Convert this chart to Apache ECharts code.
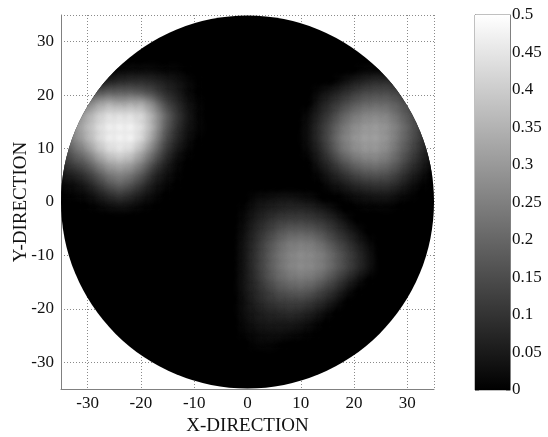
<!DOCTYPE html>
<html>
<head>
<meta charset="utf-8">
<script src="https://cdn.jsdelivr.net/npm/echarts@6/dist/echarts.min.js"></script>
<style>
  html, body { margin: 0; background: #fff; }
  #main { width: 548px; height: 437px; }
</style>
</head>
<body>
<div id="main"></div>
<script>
// disc of the measured area
const discCenter = [0, 0];
const discRadius = 35;

// blob A (upper left), values on a 2-unit grid
const aX = [-34, -32, -30, -28, -26, -24, -22, -20, -18, -16, -14, -12, -10];
const aY = [24, 22, 20, 18, 16, 14, 12, 10, 8, 6, 4, 2, 0];
const aVals = [
  [0, 0, 0, 0, 0, 0.02, 0.03, 0.03, 0.03, 0.02, 0.02, 0.01, 0],
  [0, 0, 0, 0.04, 0.07, 0.09, 0.1, 0.1, 0.09, 0.07, 0.05, 0.03, 0.01],
  [0, 0, 0.14, 0.17, 0.2, 0.2, 0.2, 0.18, 0.15, 0.1, 0.07, 0.03, 0.01],
  [0, 0.18, 0.25, 0.32, 0.36, 0.33, 0.35, 0.35, 0.27, 0.16, 0.1, 0.05, 0.02],
  [0.2, 0.26, 0.34, 0.41, 0.46, 0.46, 0.46, 0.44, 0.34, 0.22, 0.13, 0.06, 0.02],
  [0.22, 0.3, 0.37, 0.44, 0.49, 0.5, 0.5, 0.45, 0.34, 0.2, 0.11, 0.05, 0.02],
  [0.2, 0.28, 0.35, 0.43, 0.49, 0.5, 0.5, 0.43, 0.3, 0.17, 0.09, 0.04, 0.01],
  [0.16, 0.22, 0.28, 0.37, 0.44, 0.47, 0.44, 0.35, 0.24, 0.13, 0.06, 0.02, 0],
  [0.12, 0.16, 0.2, 0.28, 0.35, 0.38, 0.35, 0.27, 0.17, 0.09, 0.03, 0.01, 0],
  [0.07, 0.09, 0.13, 0.19, 0.26, 0.29, 0.26, 0.19, 0.1, 0.05, 0.02, 0, 0],
  [0.03, 0.04, 0.07, 0.12, 0.18, 0.22, 0.18, 0.12, 0.06, 0.03, 0.01, 0, 0],
  [0.01, 0.02, 0.03, 0.06, 0.1, 0.13, 0.1, 0.06, 0.03, 0.01, 0, 0, 0],
  [0, 0, 0.01, 0.02, 0.04, 0.05, 0.04, 0.02, 0.01, 0, 0, 0, 0]
];

// blob B (upper right)
const bX = [12, 14, 16, 18, 20, 22, 24, 26, 28, 30, 32, 34];
const bY = [24, 22, 20, 18, 16, 14, 12, 10, 8, 6, 4, 2, 0];
const bVals = [
  [0, 0, 0, 0, 0, 0.02, 0.02, 0, 0, 0, 0, 0],
  [0, 0, 0, 0.03, 0.06, 0.08, 0.1, 0.1, 0.08, 0, 0, 0],
  [0, 0.03, 0.06, 0.09, 0.12, 0.15, 0.16, 0.16, 0.14, 0.1, 0, 0],
  [0, 0.06, 0.1, 0.14, 0.18, 0.21, 0.22, 0.22, 0.19, 0.15, 0.1, 0],
  [0.03, 0.08, 0.13, 0.19, 0.24, 0.27, 0.28, 0.27, 0.22, 0.17, 0.12, 0],
  [0.04, 0.1, 0.16, 0.23, 0.28, 0.31, 0.32, 0.3, 0.25, 0.19, 0.13, 0],
  [0.04, 0.1, 0.17, 0.25, 0.3, 0.33, 0.33, 0.3, 0.24, 0.18, 0.12, 0.05],
  [0.03, 0.08, 0.15, 0.23, 0.28, 0.31, 0.31, 0.28, 0.22, 0.16, 0.1, 0.05],
  [0.01, 0.06, 0.11, 0.17, 0.22, 0.25, 0.26, 0.24, 0.19, 0.13, 0.08, 0.03],
  [0, 0.03, 0.07, 0.11, 0.15, 0.18, 0.19, 0.18, 0.14, 0.09, 0.05, 0.01],
  [0, 0.01, 0.04, 0.06, 0.09, 0.11, 0.12, 0.12, 0.09, 0.05, 0.02, 0],
  [0, 0, 0.01, 0.02, 0.04, 0.05, 0.06, 0.06, 0.04, 0.02, 0, 0],
  [0, 0, 0, 0, 0.01, 0.02, 0.02, 0.02, 0.01, 0, 0, 0]
];

// blob C (lower middle)
const cX = [0, 2, 4, 6, 8, 10, 12, 14, 16, 18, 20, 22];
const cY = [0, -2, -4, -6, -8, -10, -12, -14, -16, -18, -20, -22, -24, -26];
const cVals = [
  [0, 0.03, 0.04, 0.05, 0.05, 0.04, 0.03, 0, 0, 0, 0, 0],
  [0.02, 0.05, 0.07, 0.08, 0.09, 0.09, 0.08, 0.06, 0.03, 0, 0, 0],
  [0.03, 0.07, 0.1, 0.13, 0.14, 0.14, 0.13, 0.11, 0.08, 0.04, 0, 0],
  [0.04, 0.09, 0.13, 0.17, 0.2, 0.2, 0.19, 0.16, 0.12, 0.08, 0.04, 0],
  [0.05, 0.1, 0.16, 0.21, 0.25, 0.26, 0.25, 0.21, 0.16, 0.12, 0.07, 0.03],
  [0.05, 0.11, 0.17, 0.23, 0.27, 0.29, 0.28, 0.25, 0.2, 0.15, 0.1, 0.05],
  [0.05, 0.11, 0.17, 0.23, 0.27, 0.29, 0.28, 0.25, 0.2, 0.15, 0.1, 0.05],
  [0.05, 0.1, 0.16, 0.21, 0.24, 0.25, 0.24, 0.2, 0.15, 0.1, 0.05, 0.01],
  [0.05, 0.09, 0.13, 0.17, 0.19, 0.2, 0.18, 0.14, 0.1, 0.05, 0.01, 0],
  [0.04, 0.08, 0.11, 0.13, 0.14, 0.14, 0.12, 0.09, 0.05, 0.01, 0, 0],
  [0.04, 0.06, 0.08, 0.09, 0.1, 0.09, 0.07, 0.04, 0.01, 0, 0, 0],
  [0.03, 0.05, 0.06, 0.06, 0.06, 0.05, 0.03, 0.01, 0, 0, 0, 0],
  [0.02, 0.03, 0.04, 0.04, 0.03, 0.02, 0.01, 0, 0, 0, 0, 0],
  [0, 0.02, 0.02, 0.01, 0, 0, 0, 0, 0, 0, 0, 0]
];

const colorMin = 0;
const colorMax = 0.5;

const CELL = 2;
const FONT = "'Liberation Serif', 'DejaVu Serif', serif";
// cells are painted only through their blurred shadow (shape pushed aside)
const SHIFT = 600;

function toCells(xs, ys, vals) {
  const out = [];
  ys.forEach((y, i) => {
    xs.forEach((x, j) => {
      if (vals[i][j] > 0) out.push([x, y, vals[i][j]]);
    });
  });
  return out;
}

// dim cells first, brighter ones on top
const cellData = [].concat(
  toCells(aX, aY, aVals),
  toCells(bX, bY, bVals),
  toCells(cX, cY, cVals)
).sort((p, q) => p[2] - q[2]);

const chart = echarts.init(document.getElementById('main'));

const gridLine = { type: [1, 2], color: '#8a8a8a', width: 1 };
const labelStyle = { fontFamily: FONT, fontSize: 17, color: '#111' };

chart.setOption({
  animation: false,
  backgroundColor: '#fff',
  grid: [
    { left: 61, top: 15, width: 373, height: 374, containLabel: false, outerBoundsMode: 'none' },
    { left: 475, top: 15, width: 35, height: 375, containLabel: false, outerBoundsMode: 'none',
      show: true, borderColor: '#808080', borderWidth: 1 }
  ],
  visualMap: {
    type: 'continuous',
    show: false,
    seriesIndex: 1,
    dimension: 2,
    min: colorMin,
    max: colorMax,
    inRange: { color: ['#000000', '#ffffff'] }
  },
  xAxis: [{
    gridIndex: 0,
    type: 'value',
    min: -35,
    max: 35,
    splitNumber: 7,
    name: 'X-DIRECTION',
    nameLocation: 'middle',
    nameGap: 22,
    nameTextStyle: { fontFamily: FONT, fontSize: 19, color: '#111' },
    axisLine: { show: true, onZero: false, lineStyle: { color: '#808080' } },
    axisTick: { show: false },
    axisLabel: Object.assign({ showMinLabel: false, showMaxLabel: false, margin: 6 }, labelStyle),
    splitLine: { show: true, lineStyle: gridLine }
  }, {
    gridIndex: 1,
    type: 'category',
    data: ['bar'],
    show: false
  }],
  yAxis: [{
    gridIndex: 0,
    type: 'value',
    min: -35,
    max: 35,
    splitNumber: 7,
    name: 'Y-DIRECTION',
    nameLocation: 'middle',
    nameRotate: 90,
    nameGap: 30,
    nameMoveOverlap: false,
    nameTextStyle: { fontFamily: FONT, fontSize: 19, color: '#111' },
    axisLine: { show: true, onZero: false, lineStyle: { color: '#808080' } },
    axisTick: { show: false },
    axisLabel: Object.assign({ showMinLabel: false, showMaxLabel: false, margin: 7 }, labelStyle),
    splitLine: { show: true, lineStyle: gridLine }
  }, {
    gridIndex: 1,
    type: 'value',
    position: 'right',
    min: colorMin,
    max: colorMax,
    interval: 0.05,
    axisLine: { show: true, lineStyle: { color: '#808080' } },
    axisTick: { show: true, inside: true, length: 4, lineStyle: { color: '#808080' } },
    axisLabel: Object.assign({ margin: 2 }, labelStyle),
    splitLine: { show: false }
  }, {
    gridIndex: 1,
    type: 'value',
    position: 'left',
    min: colorMin,
    max: colorMax,
    interval: 0.05,
    axisLine: { show: true, lineStyle: { color: '#808080' } },
    axisTick: { show: true, inside: true, length: 4, lineStyle: { color: '#808080' } },
    axisLabel: { show: false },
    splitLine: { show: false }
  }],
  series: [{
    name: 'disc',
    type: 'custom',
    xAxisIndex: 0,
    yAxisIndex: 0,
    silent: true,
    z: 1,
    data: [[discCenter[0], discCenter[1], discRadius]],
    renderItem: (params, api) => {
      const c = api.coord([api.value(0), api.value(1)]);
      const r = api.size([api.value(2), 0])[0];
      return { type: 'circle', shape: { cx: c[0], cy: c[1], r: r }, style: { fill: '#000' } };
    }
  }, {
    name: 'field',
    type: 'custom',
    xAxisIndex: 0,
    yAxisIndex: 0,
    silent: true,
    clip: false,
    z: 2,
    data: cellData,
    renderItem: (params, api) => {
      const p = api.coord([api.value(0) - CELL / 2, api.value(1) + CELL / 2]);
      const s = api.size([CELL, CELL]);
      const c = api.coord(discCenter);
      const r = api.size([discRadius, 0])[0];
      const col = api.visual('color');
      return {
        type: 'rect',
        shape: { x: p[0] - 2 + SHIFT, y: p[1] - 2, width: s[0] + 4, height: s[1] + 4 },
        style: { fill: col, shadowBlur: 8, shadowColor: col, shadowOffsetX: -SHIFT },
        clipPath: { type: 'circle', shape: { cx: c[0], cy: c[1], r: r } }
      };
    }
  }, {
    name: 'colorbar',
    type: 'bar',
    xAxisIndex: 1,
    yAxisIndex: 1,
    silent: true,
    barWidth: '100%',
    data: [colorMax],
    itemStyle: {
      color: new echarts.graphic.LinearGradient(0, 0, 0, 1, [
        { offset: 0, color: '#ffffff' },
        { offset: 1, color: '#000000' }
      ])
    }
  }]
});

window.addEventListener('resize', () => chart.resize());
</script>
</body>
</html>
